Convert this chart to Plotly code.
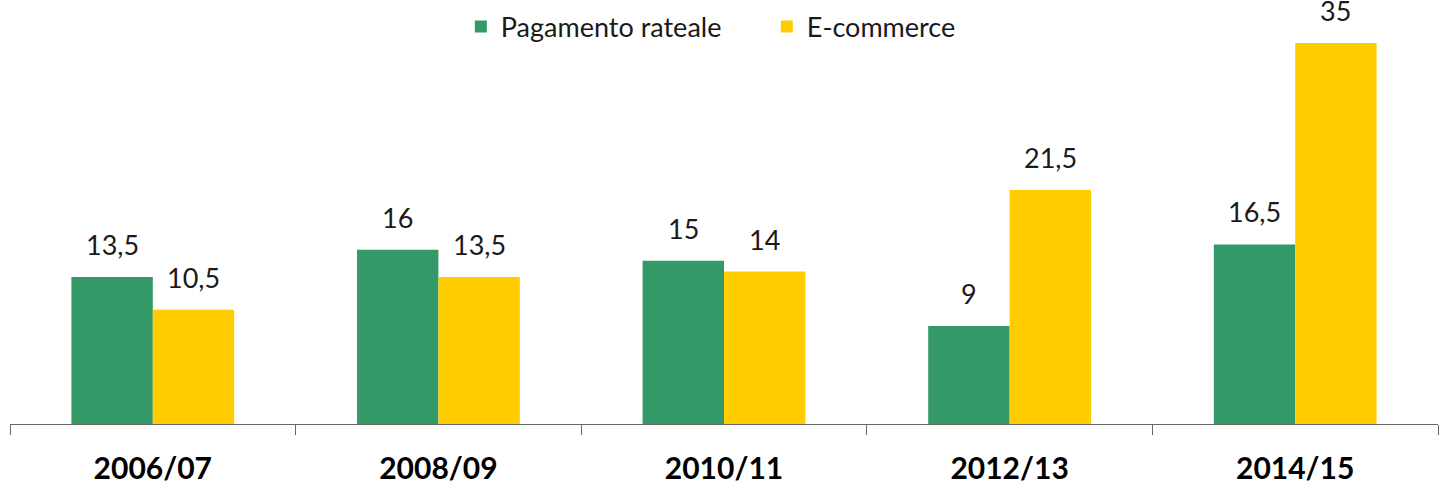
import plotly.graph_objects as go

categories = ["2006/07", "2008/09", "2010/11", "2012/13", "2014/15"]
rateale = [13.5, 16, 15, 9, 16.5]
ecommerce = [10.5, 13.5, 14, 21.5, 35]
names = ["Pagamento rateale", "E-commerce"]
colors = ["#339966", "#FFCC00"]

def fmt(v):
    return ("%g" % v).replace(".", ",")

fig = go.Figure()
for name, vals, col in zip(names, [rateale, ecommerce], colors):
    fig.add_trace(go.Bar(
        x=categories, y=vals, name=name, marker=dict(color=col, line=dict(width=0)),
    ))

# value labels above bars (offset by half a bar width)
half_bar = 40.7
for vals, shift in zip([rateale, ecommerce], [-half_bar, half_bar]):
    for cat, v in zip(categories, vals):
        fig.add_annotation(x=cat, y=v, xref="x", yref="y", text=fmt(v),
                           showarrow=False, xshift=shift, yshift=14, yanchor="bottom",
                           font=dict(family="Lato", size=27, color="#1a1a1a"))

fig.update_layout(
    width=1449, height=489,
    margin=dict(l=10, r=11, t=43, b=65, autoexpand=False),
    paper_bgcolor="white", plot_bgcolor="white",
    barmode="group", bargap=0.43, bargroupgap=0,
    font=dict(family="Lato", color="#1a1a1a"),
    legend=dict(orientation="h", x=0.3157, xanchor="left", y=1.042, yanchor="middle",
                font=dict(family="Lato", size=27, color="#1a1a1a"),
                itemwidth=30, entrywidth=261, traceorder="normal"),
    xaxis=dict(showline=True, linecolor="#666666", linewidth=1, ticks="outside",
               tickson="boundaries", ticklen=10, tickcolor="#666666",
               tickfont=dict(family="Lato", size=30, color="#000000", weight="bold"),
               ticklabelstandoff=18, automargin=False, showgrid=False),
    yaxis=dict(range=[0, 35], visible=False, showgrid=False, automargin=False),
)
fig.write_html("out.html", config={"displayModeBar": False},
               post_script="document.body.style.margin='0px';")
